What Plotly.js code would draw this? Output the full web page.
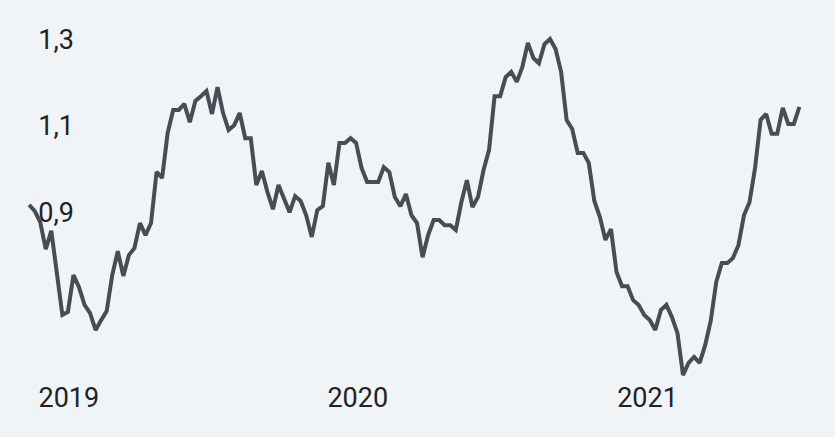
<!DOCTYPE html>
<html>
<head>
<meta charset="utf-8">
<script src="https://cdn.plot.ly/plotly-3.0.1.min.js"></script>
<style>
  html, body { margin: 0; padding: 0; background: #f0f4f7; }
  #chart { width: 835px; height: 437px; }
</style>
</head>
<body>
<div id="chart"></div>
<script>
// Weekly series, first observation on the start date below
const startDate = '2018-12-21';
const values = [
  0.918, 0.904, 0.878, 0.816, 0.858, 0.763, 0.664, 0.671, 0.756, 0.728,
  0.687, 0.668, 0.629, 0.652, 0.673, 0.756, 0.811, 0.754, 0.802, 0.818,
  0.876, 0.848, 0.876, 0.994, 0.980, 1.084, 1.137, 1.137, 1.151, 1.109,
  1.158, 1.169, 1.181, 1.128, 1.190, 1.130, 1.091, 1.102, 1.130, 1.072,
  1.072, 0.964, 0.996, 0.948, 0.908, 0.964, 0.931, 0.901, 0.938, 0.927,
  0.894, 0.844, 0.906, 0.915, 1.015, 0.964, 1.061, 1.061, 1.072, 1.061,
  1.003, 0.971, 0.971, 0.971, 1.005, 0.994, 0.936, 0.915, 0.943, 0.894,
  0.876, 0.797, 0.848, 0.883, 0.883, 0.871, 0.871, 0.860, 0.924, 0.975,
  0.913, 0.936, 0.998, 1.045, 1.169, 1.169, 1.213, 1.225, 1.202, 1.236,
  1.292, 1.257, 1.245, 1.289, 1.301, 1.278, 1.225, 1.114, 1.093, 1.038,
  1.038, 1.015, 0.927, 0.890, 0.837, 0.862, 0.763, 0.730, 0.730, 0.698,
  0.687, 0.664, 0.652, 0.629, 0.675, 0.687, 0.659, 0.622, 0.525, 0.553,
  0.567, 0.553, 0.594, 0.650, 0.740, 0.784, 0.784, 0.795, 0.825, 0.894,
  0.924, 1.003, 1.114, 1.128, 1.082, 1.082, 1.142, 1.105, 1.105, 1.144
];
const yTickVals = [0.9, 1.1, 1.3];
const yTickText = ['0,9', '1,1', '1,3'];
const xTickVals = ['2019-01-01', '2020-01-01', '2021-01-01'];
const xTickText = ['2019', '2020', '2021'];

// weekly dates
const dates = [];
const d0 = new Date(startDate + 'T00:00:00Z');
for (let i = 0; i < values.length; i++) {
  const d = new Date(d0.getTime() + i * 7 * 86400000);
  dates.push(d.toISOString().slice(0, 10));
}

const trace = {
  x: dates,
  y: values,
  type: 'scatter',
  mode: 'lines',
  line: { color: '#454e53', width: 4 },
  hoverinfo: 'skip'
};

const layout = {
  width: 835,
  height: 437,
  margin: { l: 0, r: 0, t: 0, b: 58 },
  paper_bgcolor: '#f0f4f7',
  plot_bgcolor: '#f0f4f7',
  showlegend: false,
  font: { family: 'Roboto, sans-serif', size: 27, color: '#222222' },
  xaxis: {
    type: 'date',
    range: ['2018-11-14 05:00', '2021-10-04'],
    tickvals: xTickVals,
    ticktext: xTickText,
    ticklabelposition: 'outside',
    ticklabelshift: 31,
    showgrid: false,
    zeroline: false,
    showline: false,
    ticks: '',
    fixedrange: true
  },
  yaxis: {
    range: [0.516, 1.391],
    tickvals: yTickVals,
    ticktext: yTickText,
    anchor: 'free',
    position: 0.0886,
    side: 'left',
    ticklabelposition: 'outside',
    showgrid: false,
    zeroline: false,
    showline: false,
    ticks: '',
    fixedrange: true
  }
};

Plotly.newPlot('chart', [trace], layout, { staticPlot: true, displayModeBar: false });
</script>
</body>
</html>
